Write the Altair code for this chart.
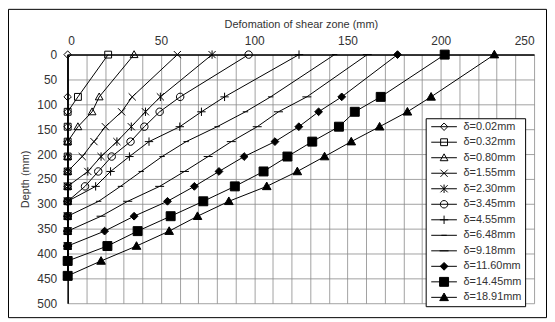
import altair as alt
import pandas as pd

FONT = "Liberation Sans"

# depth rows (mm)
depths = [0, 85, 115, 145, 175, 205, 235, 265, 295, 325, 355, 385, 415, 445]

labels = ["δ=0.02mm", "δ=0.32mm", "δ=0.80mm", "δ=1.55mm", "δ=2.30mm", "δ=3.45mm",
          "δ=4.55mm", "δ=6.48mm", "δ=9.18mm", "δ=11.60mm", "δ=14.45mm", "δ=18.91mm"]

# deformation of shear zone (mm) at each depth row
s_0_02 = [0, 0, 0, 0, 0, 0, 0, 0, 0, 0, 0, 0, 0, 0]
s_0_32 = [21.7, 5.5, 0, 0, 0, 0, 0, 0, 0, 0, 0, 0, 0, 0]
s_0_80 = [35.6, 16.9, 13.1, 5.5, 0, 0, 0, 0, 0, 0, 0, 0, 0, 0]
s_1_55 = [58.8, 34.6, 28.9, 20.2, 14.1, 7.8, 0, 0, 0, 0, 0, 0, 0, 0]
s_2_30 = [77.4, 49.7, 41.7, 34.1, 26.4, 17.9, 10.8, 0, 0, 0, 0, 0, 0, 0]
s_3_45 = [97.0, 60.3, 49.3, 41.1, 33.7, 23.6, 16.4, 9.3, 0, 0, 0, 0, 0, 0]
s_4_55 = [124.0, 84.1, 71.7, 60.1, 43.6, 33.1, 23.0, 15.0, 0, 0, 0, 0, 0, 0]
s_6_48 = [143.1, 108.8, 95.3, 80.1, 63.5, 50.6, 39.4, 28.3, 16.6, 0, 0, 0, 0, 0]
s_9_18 = [160.6, 128.2, 113.0, 101.6, 87.7, 75.3, 62.6, 49.3, 32.2, 17.9, 0, 0, 0, 0]
s_11_60 = [176.8, 146.9, 134.5, 123.9, 111.1, 94.6, 81.1, 67.9, 53.5, 35.6, 19.8, 0, 0, 0]
s_14_45 = [202.1, 167.8, 153.9, 145.4, 131.1, 117.8, 105.0, 89.6, 72.7, 55.2, 37.5, 21.3, 0, 0]
s_18_91 = [228.7, 194.8, 182.1, 167.2, 152.0, 137.7, 123.1, 106.7, 86.4, 69.6, 54.4, 36.9, 17.9, 0]

series = [s_0_02, s_0_32, s_0_80, s_1_55, s_2_30, s_3_45,
          s_4_55, s_6_48, s_9_18, s_11_60, s_14_45, s_18_91]

marker_labels = [lab + " " for lab in labels]

rows = []
for lab, mlab, vals in zip(labels, marker_labels, series):
    for d, v in zip(depths, vals):
        rows.append({"label": lab, "mlabel": mlab, "depth": d, "def": v})
df = pd.DataFrame(rows)

# marker shapes (SVG paths in unit coordinates)
shape_paths = [
    "M0,-1.25L1.25,0L0,1.25L-1.25,0Z",              # open diamond
    "M-1.15,-1.15L1.15,-1.15L1.15,1.15L-1.15,1.15Z", # open square
    "M0,-1.3L1.3,1.0L-1.3,1.0Z",                    # open triangle
    "M-1.2,-1.2L1.2,1.2M-1.2,1.2L1.2,-1.2",         # x
    "M-1.2,-1.2L1.2,1.2M-1.2,1.2L1.2,-1.2M0,-1.4L0,1.4",  # asterisk
    "M1.25,0A1.25,1.25,0,1,1,-1.25,0A1.25,1.25,0,1,1,1.25,0Z",  # open circle
    "M-1.4,0L1.4,0M0,-1.4L0,1.4",                   # plus
    "M-0.9,0L0.9,0",                                 # short dash
    "M-1.5,0L1.5,0",                                 # dash
    "M0,-1.3L1.3,0L0,1.3L-1.3,0Z",                  # filled diamond
    "M-1.5,-1.5L1.5,-1.5L1.5,1.5L-1.5,1.5Z",        # filled square
    "M0,-1.45L1.45,1.1L-1.45,1.1Z",                 # filled triangle
]
fills = ["transparent"] * 9 + ["black"] * 3

x_enc = alt.X(
    "def:Q",
    scale=alt.Scale(domain=[0, 250], nice=False, zero=False),
    axis=alt.Axis(
        orient="top",
        values=list(range(0, 251, 10)),
        labelExpr="datum.value % 50 == 0 ? datum.label : ''",
        title="Defomation of shear zone (mm)",
        labelPadding=7,
        titlePadding=5,
    ),
)
y_enc = alt.Y(
    "depth:Q",
    scale=alt.Scale(domain=[0, 500], reverse=True, nice=False),
    axis=alt.Axis(
        values=list(range(0, 501, 50)),
        title="Depth (mm)",
        labelPadding=11,
        titlePadding=6,
    ),
)

leg_a = alt.Legend(
    title=None, orient="none", legendX=360, legendY=64, direction="vertical",
    symbolType="M-4.3,0L4.3,0", symbolSize=36, symbolStrokeWidth=1,
    symbolOffset=10, labelOffset=14, clipHeight=11,
    labelFont=FONT, labelFontSize=11, labelColor="#333", labelLimit=200,
    padding=3, rowPadding=3.6, strokeColor="black", fillColor="white",
)
leg_b = alt.Legend(
    title=None, orient="none", legendX=363, legendY=67, direction="vertical",
    symbolSize=36, symbolStrokeWidth=1, symbolStrokeColor="black",
    symbolOffset=10, labelOffset=14, clipHeight=11,
    labelExpr="''", labelFontSize=11,
    padding=0, rowPadding=3.6,
)

frame = alt.Chart(alt.Data(values=[{}])).mark_rect(
    fillOpacity=0, stroke="black", strokeWidth=1
).encode(
    x=alt.value(-59.5), x2=alt.value(481.5), y=alt.value(-45.5), y2=alt.value(264.5)
)

lines = alt.Chart(df).mark_line(strokeWidth=1).encode(
    x=x_enc,
    y=y_enc,
    color=alt.Color("label:N", scale=alt.Scale(domain=labels, range=["black"] * 12), legend=leg_a),
    order=alt.Order("depth:Q"),
)

points = alt.Chart(df).mark_point(
    filled=True, strokeWidth=1, size=36, opacity=1
).encode(
    x=x_enc,
    y=y_enc,
    shape=alt.Shape("mlabel:N", scale=alt.Scale(domain=marker_labels, range=shape_paths), legend=leg_b),
    fill=alt.Fill("mlabel:N", scale=alt.Scale(domain=marker_labels, range=fills), legend=leg_b),
    stroke=alt.Stroke("mlabel:N", scale=alt.Scale(domain=marker_labels, range=["black"] * 12), legend=leg_b),
)

chart = alt.layer(frame, lines, points).properties(
    width=469, height=250, padding=0, background="white"
).configure_view(
    strokeWidth=0
).configure_axis(
    labelFont=FONT, labelFontSize=12, labelColor="#333",
    titleFont=FONT, titleFontSize=11, titleColor="#333", titleFontWeight="normal",
    grid=True, gridColor="#8a8a8a", gridWidth=0.8,
    domainColor="black", domainWidth=1.5, ticks=False,
)

chart.save("out.html", embed_options={"renderer": "svg", "actions": False})
